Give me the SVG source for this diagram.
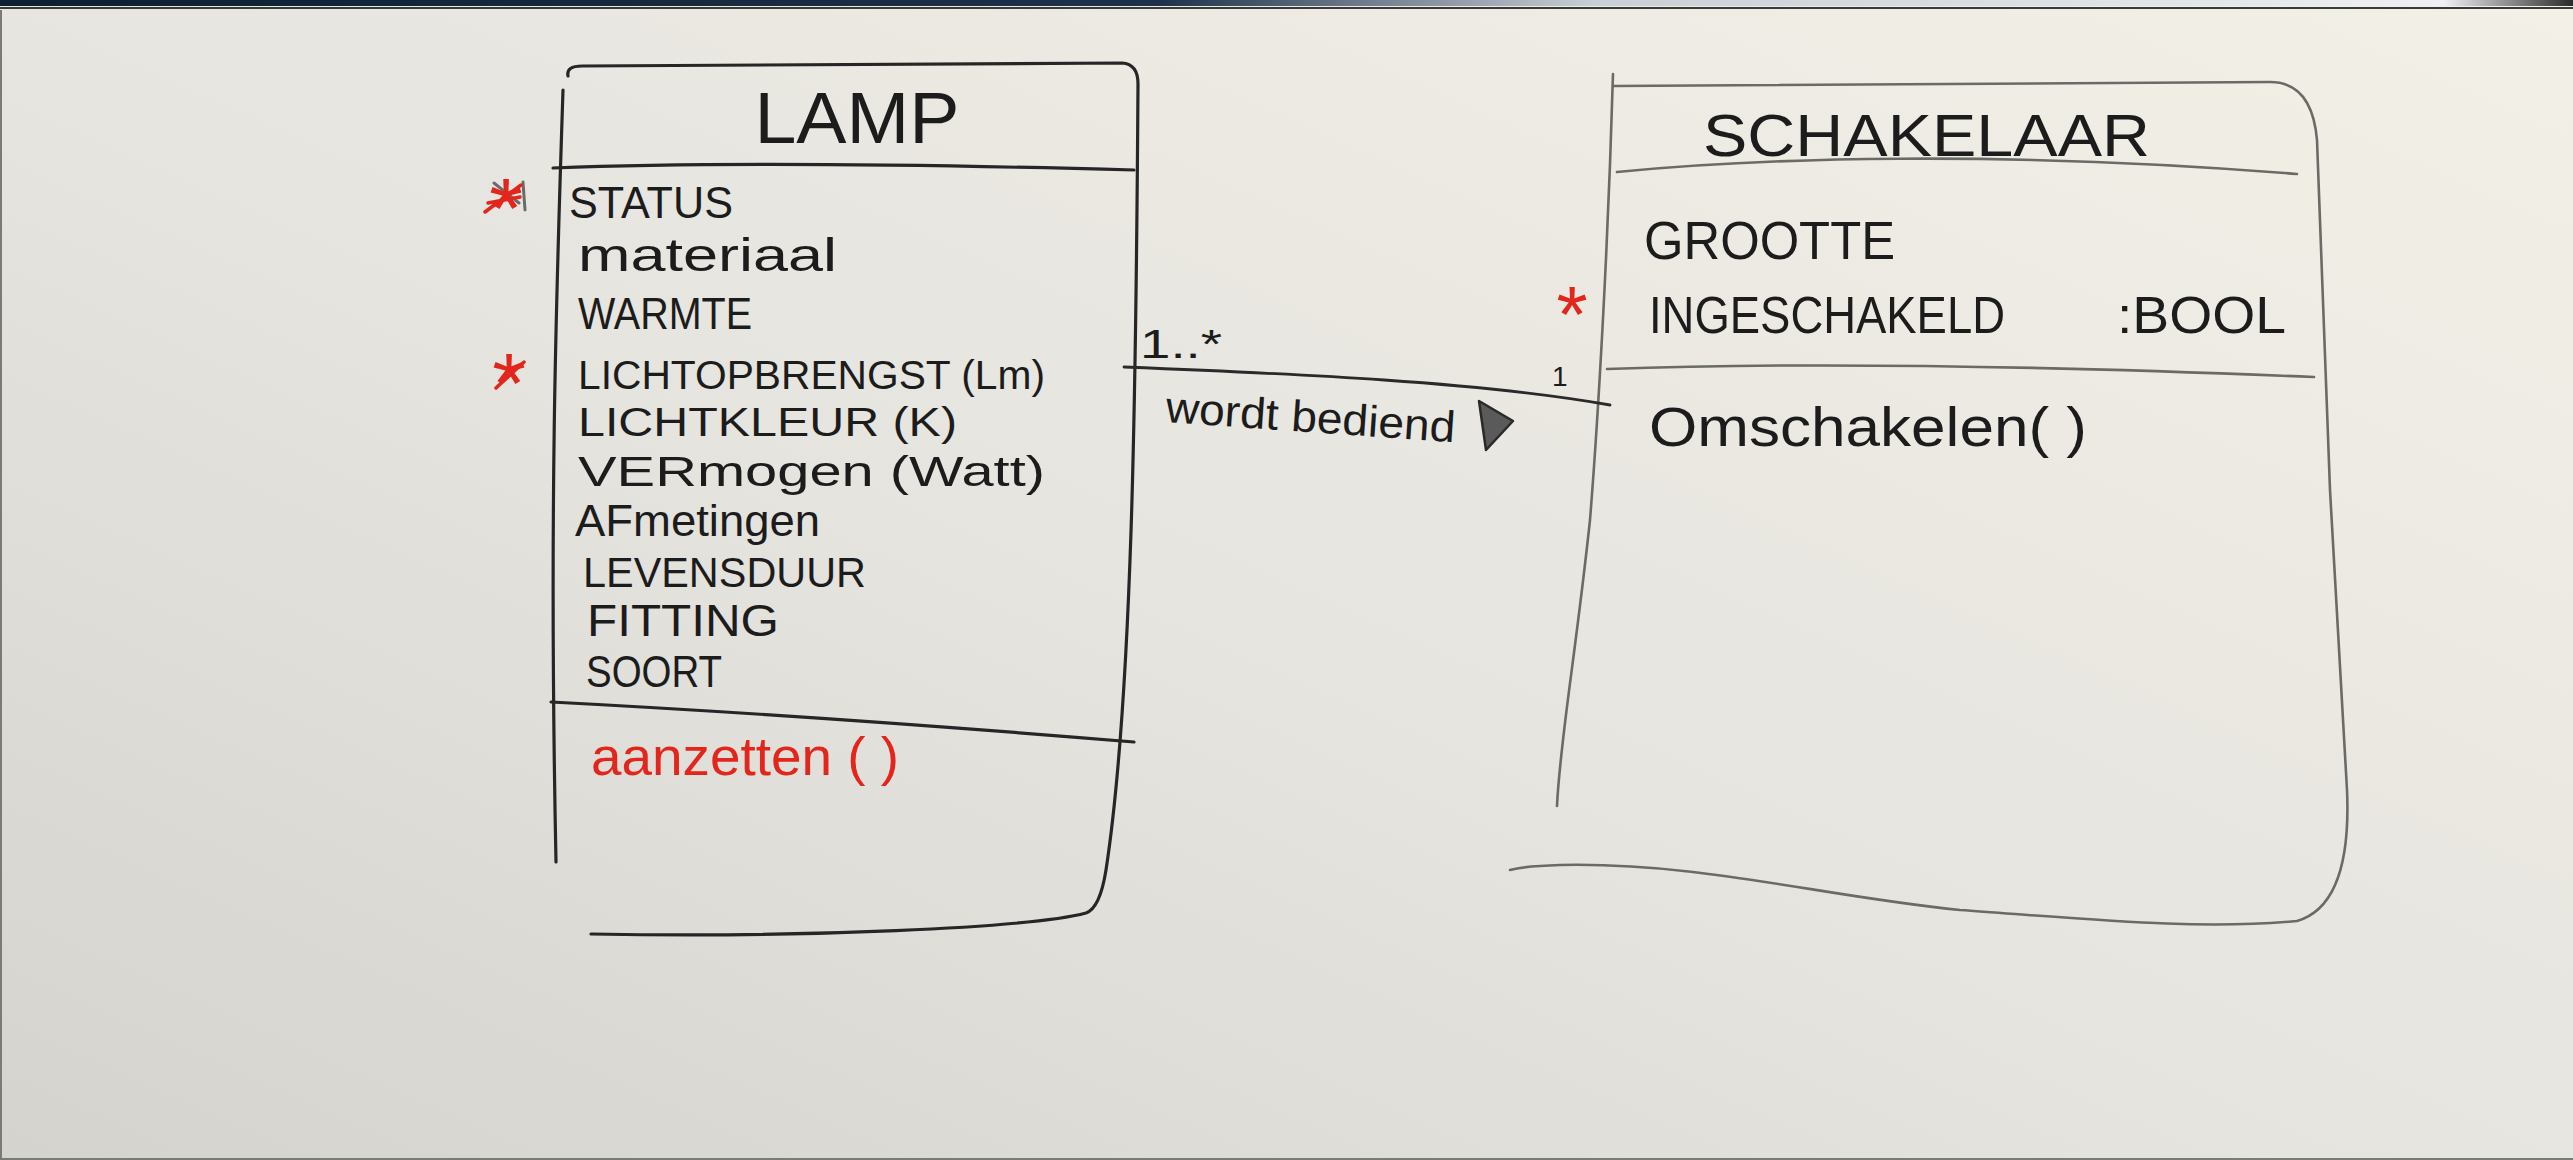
<svg xmlns="http://www.w3.org/2000/svg" width="2573" height="1160" viewBox="0 0 2573 1160">
<defs>
<linearGradient id="bg" x1="0" y1="1" x2="1" y2="0">
<stop offset="0" stop-color="#d5d3ce"/>
<stop offset="0.45" stop-color="#e6e4df"/>
<stop offset="1" stop-color="#f3f0e7"/>
</linearGradient>
<linearGradient id="band" x1="0" y1="0" x2="1" y2="0">
<stop offset="0" stop-color="#0e1f33"/>
<stop offset="0.45" stop-color="#1d3148"/>
<stop offset="0.62" stop-color="#c9cfd6"/>
<stop offset="0.95" stop-color="#eef0f1"/>
<stop offset="1" stop-color="#2a2a2a"/>
</linearGradient>
<style>
.txt{font-family:"Liberation Sans",Arial,sans-serif;fill:#1c1c1c}
.red{fill:#e3261c}
.redl{stroke:#e3261c;stroke-width:3.5;fill:none;stroke-linecap:round}
.lamp{stroke:#262626;stroke-width:3.2;fill:none;stroke-linecap:round;stroke-linejoin:round}
.sch{stroke:#6a6a66;stroke-width:2.6;fill:none;stroke-linecap:round;stroke-linejoin:round}
.conn{stroke:#2a2a2a;stroke-width:2.8;fill:none;stroke-linecap:round}
</style>
</defs>
<rect width="2573" height="1160" fill="url(#bg)"/>
<rect x="0" y="0" width="2573" height="6" fill="url(#band)"/>
<line x1="0" y1="8" x2="2573" y2="8" stroke="#3a3a3a" stroke-width="2"/>
<line x1="1" y1="10" x2="1" y2="1160" stroke="#7a7a78" stroke-width="2"/>
<line x1="0" y1="1159" x2="2573" y2="1159" stroke="#7a7a78" stroke-width="2"/>

<g id="node-lamp">
<path class="lamp" d="M 568 76 Q 566 66 582 66 L 1122 63 Q 1138 64 1138 84 C 1136 400 1132 700 1106 870 Q 1100 908 1086 913 C 1030 928 800 938 591 934"/>
<path class="lamp" d="M 563 90 C 556 300 549 520 556 862"/>
<path class="lamp" d="M 553 168 Q 760 160 1134 170"/>
<path class="lamp" d="M 551 702 Q 820 716 1134 742"/>
<text class="txt" x="857" y="143" font-size="72" text-anchor="middle" textLength="205" lengthAdjust="spacingAndGlyphs">LAMP</text>
<text class="txt" x="569" y="218" font-size="44" textLength="164" lengthAdjust="spacingAndGlyphs">STATUS</text>
<text class="txt" x="578" y="271" font-size="46" textLength="259" lengthAdjust="spacingAndGlyphs">materiaal</text>
<text class="txt" x="578" y="329" font-size="44" textLength="174" lengthAdjust="spacingAndGlyphs">WARMTE</text>
<text class="txt" x="578" y="389" font-size="41" textLength="467" lengthAdjust="spacingAndGlyphs">LICHTOPBRENGST (Lm)</text>
<text class="txt" x="578" y="436" font-size="41" textLength="379" lengthAdjust="spacingAndGlyphs">LICHTKLEUR (K)</text>
<text class="txt" x="578" y="486" font-size="42" textLength="467" lengthAdjust="spacingAndGlyphs">VERmogen (Watt)</text>
<text class="txt" x="575" y="536" font-size="44" textLength="245" lengthAdjust="spacingAndGlyphs">AFmetingen</text>
<text class="txt" x="583" y="587" font-size="42" textLength="283" lengthAdjust="spacingAndGlyphs">LEVENSDUUR</text>
<text class="txt" x="587" y="636" font-size="44" textLength="192" lengthAdjust="spacingAndGlyphs">FITTING</text>
<text class="txt" x="586" y="687" font-size="44" textLength="136" lengthAdjust="spacingAndGlyphs">SOORT</text>
<text class="txt red" x="591" y="775" font-size="54" textLength="308" lengthAdjust="spacingAndGlyphs">aanzetten ( )</text>
<path d="M 494 183 L 519 203 M 523 182 L 525 210" stroke="#6b6b6b" stroke-width="3" fill="none" stroke-linecap="round"/>
<text class="txt red" x="506" y="238" font-size="86" text-anchor="middle">*</text>
<path class="redl" d="M 485 212 L 521 185 M 488 203 L 520 197"/>
<text class="txt red" x="509" y="413" font-size="86" text-anchor="middle">*</text>
<path class="redl" d="M 496 388 L 524 362"/>
</g>

<g id="node-schakelaar">
<path class="sch" d="M 1613 86 L 2270 82 Q 2312 82 2317 140 L 2330 490 L 2347 790 Q 2352 905 2297 921 C 2200 930 2100 920 1960 910 C 1820 896 1700 862 1560 865 Q 1525 866 1510 870"/>
<path class="sch" d="M 1613 74 C 1608 250 1598 420 1590 520 C 1575 660 1560 740 1557 806"/>
<path class="sch" d="M 1617 172 C 1760 158 2000 150 2297 174"/>
<path class="sch" d="M 1607 369 C 1800 362 2050 366 2314 377"/>
<text class="txt" x="1703" y="156" font-size="60" textLength="447" lengthAdjust="spacingAndGlyphs">SCHAKELAAR</text>
<text class="txt" x="1644" y="259" font-size="54" textLength="251" lengthAdjust="spacingAndGlyphs">GROOTTE</text>
<text class="txt" x="1649" y="333" font-size="52" textLength="356" lengthAdjust="spacingAndGlyphs">INGESCHAKELD</text>
<text class="txt" x="2117" y="333" font-size="52" textLength="169" lengthAdjust="spacingAndGlyphs">:BOOL</text>
<text class="txt" x="1649" y="446" font-size="56" textLength="438" lengthAdjust="spacingAndGlyphs">Omschakelen( )</text>
<text class="txt red" x="1572" y="342" font-size="80" text-anchor="middle">*</text>
</g>

<g id="connectors">
<path class="conn" d="M 1124 367 C 1300 374 1480 382 1610 405"/>
<text class="txt" x="1140" y="358" font-size="40" textLength="82" lengthAdjust="spacingAndGlyphs">1..*</text>
<text class="txt" x="1552" y="386" font-size="28">1</text>
<text class="txt" x="1165" y="422" font-size="44" textLength="290" lengthAdjust="spacingAndGlyphs" transform="rotate(4 1165 422)">wordt bediend</text>
<polygon points="1479,401 1513,421 1486,450" fill="#5a5a5a" stroke="#2a2a2a" stroke-width="2.5" stroke-linejoin="round"/>
</g>
</svg>
